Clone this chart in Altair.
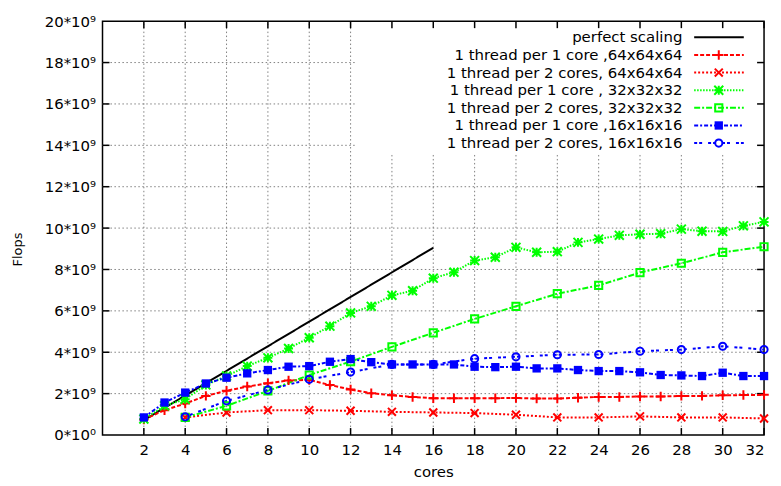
import altair as alt
import pandas as pd

# ---------------- data (values in units of 10^9 Flops) ----------------
cores_all = list(range(2, 33))          # 1 thread per 1 core runs
cores_even = list(range(4, 33, 2))      # 1 thread per 2 cores runs

perfect_cores = [2, 16]
perfect_flops = [0.72, 9.05]

red_1_1 = [0.75, 1.20, 1.52, 1.89, 2.14, 2.34, 2.50, 2.64, 2.66, 2.42, 2.20,
           2.02, 1.92, 1.84, 1.78, 1.78, 1.78, 1.78, 1.79, 1.76, 1.76, 1.80,
           1.84, 1.84, 1.86, 1.86, 1.89, 1.89, 1.92, 1.93, 1.94]
red_1_2 = [0.85, 1.09, 1.20, 1.20, 1.17, 1.12, 1.09, 1.06, 0.98, 0.85, 0.85,
           0.90, 0.85, 0.85, 0.80]
green_1_1 = [0.77, 1.41, 1.73, 2.42, 2.85, 3.33, 3.73, 4.18, 4.70, 5.26, 5.90,
             6.22, 6.75, 6.97, 7.58, 7.87, 8.43, 8.59, 9.07, 8.83, 8.86, 9.31,
             9.47, 9.65, 9.70, 9.73, 9.95, 9.85, 9.84, 10.11, 10.30]
green_1_2 = [0.85, 1.41, 2.13, 2.90, 3.55, 4.26, 4.94, 5.61, 6.22, 6.83, 7.23,
             7.85, 8.30, 8.83, 9.10]
blue_1_1 = [0.85, 1.57, 2.05, 2.49, 2.77, 2.98, 3.14, 3.30, 3.33, 3.54, 3.67,
            3.52, 3.41, 3.41, 3.41, 3.41, 3.30, 3.28, 3.30, 3.22, 3.22, 3.14,
            3.09, 3.09, 3.03, 2.90, 2.88, 2.85, 3.01, 2.85, 2.85]
blue_1_2 = [0.88, 1.65, 2.18, 2.69, 3.04, 3.41, 3.41, 3.69, 3.78, 3.88, 3.89,
            4.05, 4.13, 4.29, 4.13]

series_names = [
    "perfect scaling",
    "1 thread per 1 core ,64x64x64",
    "1 thread per 2 cores, 64x64x64",
    "1 thread per 1 core , 32x32x32",
    "1 thread per 2 cores, 32x32x32",
    "1 thread per 1 core ,16x16x16",
    "1 thread per 2 cores, 16x16x16 ",
]
x_ticks = list(range(2, 33, 2))
y_ticks = list(range(0, 21, 2))

# ---------------- styles ----------------
colors = ["#000000", "#ff0000", "#ff0000", "#00ff00", "#00ff00", "#0000ff", "#0000ff"]
dashes = [[1, 0], [4, 2], [2, 2], [1.5, 1.5], [6, 2, 2, 2], [4, 2, 2, 2], [3, 2, 3, 6]]
PLUS = "M-1,0L1,0M0,-1L0,1"
XSYM = "M-1,-1L1,1M-1,1L1,-1"
STAR = PLUS + XSYM
# (shape, size, filled) for each series that carries markers
marker_styles = {
    series_names[1]: (PLUS, 90, False),
    series_names[2]: (XSYM, 64, False),
    series_names[3]: (STAR, 81, False),
    series_names[4]: ("square", 52, False),
    series_names[5]: ("square", 70, True),
    series_names[6]: ("circle", 52, False),
}

FONT = "DejaVu Sans"
W, H = 665, 416
XMAX, YMAX = 32, 20

# ---------------- tables ----------------
rows = []
for c, v in zip(perfect_cores, perfect_flops):
    rows.append((series_names[0], c, v))
for name, xs, ys in [
    (series_names[1], cores_all, red_1_1),
    (series_names[2], cores_even, red_1_2),
    (series_names[3], cores_all, green_1_1),
    (series_names[4], cores_even, green_1_2),
    (series_names[5], cores_all, blue_1_1),
    (series_names[6], cores_even, blue_1_2),
]:
    for c, v in zip(xs, ys):
        rows.append((name, c, v))
df = pd.DataFrame(rows, columns=["series", "cores", "flops"])

# grid (gnuplot leaves the key area free of grid lines)
key_left_x = 12.25
key_bottom_y = 13.6
grid_rows = []
for xv in x_ticks[:-1]:
    top = YMAX if xv <= 12 else key_bottom_y
    grid_rows.append((xv, 0, xv, top))
for yv in y_ticks[1:-1]:
    right = XMAX if yv <= 12 else key_left_x
    grid_rows.append((0, yv, right, yv))
grid_df = pd.DataFrame(grid_rows, columns=["x", "y", "x2", "y2"])

# inward tick marks on all four sides (7 px)
dx = 7 * XMAX / W
dy = 7 * YMAX / H
tick_rows = []
for xv in x_ticks:
    tick_rows.append((xv, 0, xv, dy))
    tick_rows.append((xv, YMAX - dy, xv, YMAX))
for yv in y_ticks[1:-1]:
    tick_rows.append((0, yv, dx, yv))
    tick_rows.append((XMAX - dx, yv, XMAX, yv))
tick_df = pd.DataFrame(tick_rows, columns=["x", "y", "x2", "y2"])

# key
key_text_x = 28.05
key_line_x1, key_line_x2 = 28.62, 31.02
key_marker_x = 29.81
key_y0, key_step = 19.22, 0.852
key_df = pd.DataFrame({
    "series": series_names,
    "label": series_names,
    "y": [key_y0 - i * key_step for i in range(len(series_names))],
    "tx": key_text_x, "lx1": key_line_x1, "lx2": key_line_x2, "mx": key_marker_x,
})

# ---------------- encodings ----------------
xscale = alt.Scale(domain=[0, XMAX], nice=False, zero=False)
yscale = alt.Scale(domain=[0, YMAX], nice=False, zero=False)
xaxis = alt.Axis(values=x_ticks, title="cores", grid=False, ticks=False, domain=False,
                 labelPadding=8, titleY=37, titleBaseline="middle", titleFontSize=15,
                 titleFontWeight="normal")
yaxis = alt.Axis(values=y_ticks, title="Flops", grid=False, ticks=False, domain=False,
                 labelPadding=7,
                 labelExpr="datum.value == 0 ? '0*10⁰' : format(datum.value, 'd') + '*10⁹'",
                 titleX=-85, titleY=H / 2 + 21, titleAngle=270, titleAlign="center",
                 titleBaseline="middle", titleFontSize=13, titleFontWeight="normal")


def X(f):
    return alt.X(f"{f}:Q", scale=xscale, axis=xaxis)


def Y(f):
    return alt.Y(f"{f}:Q", scale=yscale, axis=yaxis)


color_enc = alt.Color("series:N", scale=alt.Scale(domain=series_names, range=colors), legend=None)
dash_enc = alt.StrokeDash("series:N", scale=alt.Scale(domain=series_names, range=dashes), legend=None)

grid = alt.Chart(grid_df).mark_rule(color="#808080", strokeWidth=1, strokeDash=[1.5, 2.5]).encode(
    x=X("x"), y=Y("y"), x2="x2:Q", y2="y2:Q")
ticks = alt.Chart(tick_df).mark_rule(color="#000000", strokeWidth=1.5).encode(
    x=X("x"), y=Y("y"), x2="x2:Q", y2="y2:Q")

lines = alt.Chart(df).mark_line(strokeWidth=2).encode(
    x=X("cores"), y=Y("flops"), color=color_enc, strokeDash=dash_enc, detail="series:N")

key_text = alt.Chart(key_df).mark_text(align="right", baseline="middle", font=FONT,
                                       fontSize=15, color="#000000").encode(
    x=X("tx"), y=Y("y"), text="label:N")
key_lines = alt.Chart(key_df).mark_rule(strokeWidth=2).encode(
    x=X("lx1"), x2="lx2:Q", y=Y("y"), color=color_enc, strokeDash=dash_enc)

layers = [grid, ticks, lines, key_text, key_lines]
for i, name in enumerate(series_names):
    if name not in marker_styles:
        continue
    shape, size, filled = marker_styles[name]
    col = colors[i]
    flt = alt.datum.series == name
    layers.append(
        alt.Chart(df).transform_filter(flt).mark_point(
            shape=shape, size=size, filled=filled, color=col, opacity=1,
            strokeWidth=1 if filled else 2).encode(x=X("cores"), y=Y("flops")))
    layers.append(
        alt.Chart(key_df).transform_filter(flt).mark_point(
            shape=shape, size=size, filled=filled, color=col, opacity=1,
            strokeWidth=1 if filled else 2).encode(x=X("mx"), y=Y("y")))

chart = alt.layer(*layers).properties(
    width=W, height=H,
    autosize=alt.AutoSizeParams(type="none"),
    padding={"left": 95, "top": 12, "right": 9, "bottom": 48},
).configure_view(
    stroke="#000000", strokeWidth=1.5
).configure_axis(
    labelFont=FONT, labelFontSize=15, labelColor="#000000",
    titleFont=FONT, titleColor="#000000",
)

chart.save("out.html", embed_options={"renderer": "svg", "actions": False})
